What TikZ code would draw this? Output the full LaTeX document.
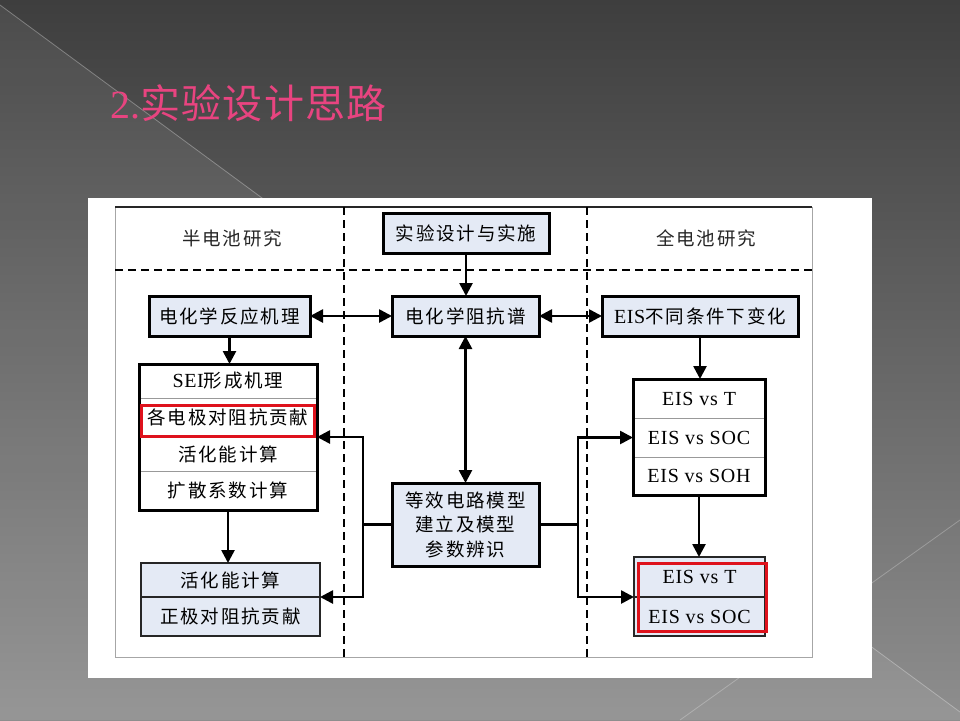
\documentclass[tikz,border=0pt]{standalone}
\usepackage{fontspec}
\setmainfont{Liberation Serif}
\newfontfamily\cjk[LetterSpace=10]{Noto Sans CJK SC}
\newfontfamily\lat[LetterSpace=3]{Liberation Serif}
\newfontfamily\eisfont[LetterSpace=4]{Liberation Serif}
\newfontfamily\titlecjk[LetterSpace=3]{Noto Sans CJK SC}
\usetikzlibrary{arrows.meta,calc}
\definecolor{bgtop}{RGB}{62,62,62}
\definecolor{bgbot}{RGB}{142,142,142}
\definecolor{boxblue}{RGB}{228,234,245}
\definecolor{redline}{RGB}{222,18,28}
\definecolor{titlepink}{RGB}{232,68,128}
\newcommand{\latin}[1]{{\lat\fontsize{20}{24.5}\selectfont #1}}
\tikzset{
  txt/.style={font=\cjk\fontsize{18.5}{24.5}\selectfont},
  eis/.style={font=\eisfont\fontsize{20}{22}\selectfont},
  hdr/.style={txt, text=black!85},
  bbox/.style={txt, draw=black, line width=3pt, fill=boxblue, inner sep=0pt, outer sep=0pt},
  row/.style={txt, draw=gray!80, line width=1pt, fill=white, inner sep=0pt, outer sep=0pt},
  lrow/.style={txt, draw=black!85, line width=1.6pt, fill=boxblue, inner sep=0pt, outer sep=0pt},
  outer/.style={draw=black, line width=3pt},
  redbox/.style={draw=redline, line width=3pt},
  conn/.style={line width=2.6pt},
  arr/.style={line width=2.6pt, -{Triangle[length=13pt,width=13pt]}},
  darr/.style={line width=2.6pt, {Triangle[length=13pt,width=13pt]}-{Triangle[length=13pt,width=13pt]}},
  sep/.style={line width=1.4pt, dash pattern=on 8pt off 5pt}
}
\begin{document}
\begin{tikzpicture}[x=1pt,y=-1pt]
\useasboundingbox (0,0) rectangle (960,720);
% background
\shade[top color=bgtop, bottom color=bgbot] (0,0) rectangle (960,720);
\fill[white, opacity=0.07] (0,5) -- (960,712) -- (960,720) -- (0,720) -- cycle;
\draw[white, opacity=0.3, line width=0.8pt] (0,5) -- (960,712);
\draw[white, opacity=0.25, line width=0.8pt] (680,720) -- (960,520);
% title
\node[anchor=west, text=titlepink, font=\titlecjk\fontsize{40}{40}\selectfont] (title) at (107,103) {{\rmfamily 2.}实验设计思路};
% white panel and frame
\fill[white] (88,198) rectangle (872,678);
\draw[gray!70, line width=1pt] (115,207) rectangle (812,657);
\draw[black!85, line width=1.6pt] (115,207) -- (812,207);
\draw[sep] (115,270) -- (812,270);
\draw[sep] (344,207) -- (344,657);
\draw[sep] (587,207) -- (587,657);
% headers
\node[hdr] (hl) at (232,238) {半电池研究};
\node[hdr] (hr) at (706,238) {全电池研究};
% main boxes
\node[bbox, minimum width=166pt, minimum height=40pt] (top) at (466,233) {实验设计与实施};
\node[bbox, minimum width=147pt, minimum height=40pt] (eis) at (465.5,316) {电化学阻抗谱};
\node[bbox, minimum width=161pt, minimum height=40pt] (mech) at (229.5,316) {电化学反应机理};
\node[bbox, minimum width=196pt, minimum height=40pt] (cond) at (700,316) {\latin{EIS}不同条件下变化};
\node[bbox, minimum width=147pt, minimum height=83pt, align=center] (model) at (465.5,524.5) {等效电路模型\\建立及模型\\参数辨识};
% left stack
\node[row, minimum width=178pt, minimum height=34pt] (L1) at (228,381) {\latin{SEI}形成机理};
\node[row, minimum width=178pt, minimum height=39pt] (L2) at (228,417.5) {各电极对阻抗贡献};
\node[row, minimum width=178pt, minimum height=34pt] (L3) at (228,454) {活化能计算};
\node[row, minimum width=178pt, minimum height=39pt] (L4) at (228,490.5) {扩散系数计算};
\draw[outer] (L1.north west) rectangle (L4.south east);
\draw[redbox] ($(L2.north west)+(2.5,7)$) rectangle ($(L2.south east)+(-2.5,-1)$);
% lower left
\node[lrow, minimum width=179pt, minimum height=34pt] (LL1) at (230.5,580) {活化能计算};
\node[lrow, minimum width=179pt, minimum height=39pt] (LL2) at (230.5,616.5) {正极对阻抗贡献};
% right stack
\node[row, eis, minimum width=132pt, minimum height=39pt] (R1) at (699,398.5) {EIS vs T};
\node[row, eis, minimum width=132pt, minimum height=39pt] (R2) at (699,437.5) {EIS vs SOC};
\node[row, eis, minimum width=132pt, minimum height=38pt] (R3) at (699,476) {EIS vs SOH};
\draw[outer] (R1.north west) rectangle (R3.south east);
% lower right
\node[lrow, eis, minimum width=131pt, minimum height=40pt] (RR1) at (699.5,577) {EIS vs T};
\node[lrow, eis, minimum width=131pt, minimum height=39pt] (RR2) at (699.5,616.5) {EIS vs SOC};
\draw[redbox] ($(RR1.north west)+(4,6)$) rectangle ($(RR2.south east)+(1,-5)$);
% connectors
\draw[arr] (top.south) -- (top.south |- eis.north);
\draw[darr] (mech) -- (eis);
\draw[darr] (eis) -- (cond);
\draw[arr] (mech.south) -- (mech.south |- L1.north);
\draw[arr] (L4.south) -- (L4.south |- LL1.north);
\draw[darr] (eis.south) -- (model.north);
\coordinate (lj) at (363,524.5);
\coordinate (rj) at (578,524.5);
\draw[conn] (model.west) -- (lj);
\draw[arr] (lj) |- (L2.south east);
\draw[arr] (lj) |- (LL2.north east);
\draw[conn] (model.east) -- (rj);
\draw[arr] (rj) |- (R2.west);
\draw[arr] (rj) |- (RR2.north west);
\draw[arr] (cond.south) -- (cond.south |- R1.north);
\draw[arr] (R3.south) -- (R3.south |- RR1.north);
\end{tikzpicture}
\end{document}
